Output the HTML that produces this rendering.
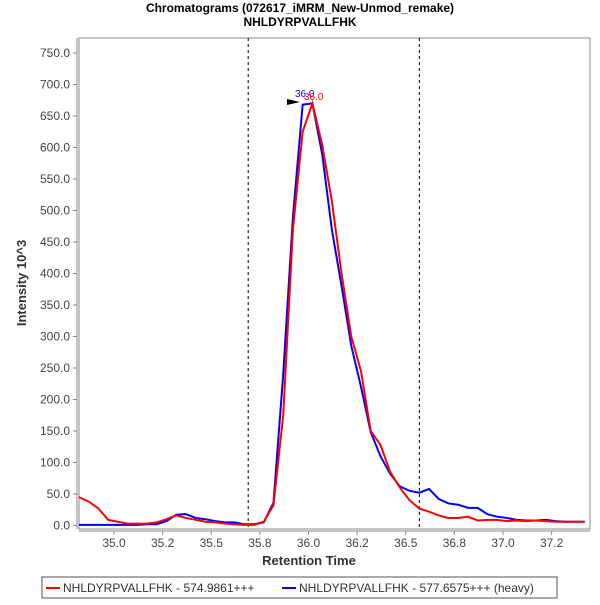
<!DOCTYPE html>
<html><head><meta charset="utf-8"><style>
body{margin:0;background:#fff;font-family:"Liberation Sans",sans-serif}
</style></head><body>
<svg width="600" height="600" xmlns="http://www.w3.org/2000/svg" font-family="Liberation Sans, sans-serif">
<rect width="600" height="600" fill="#fff"/>
<text x="300" y="12" text-anchor="middle" font-size="12" font-weight="bold">Chromatograms (072617_iMRM_New-Unmod_remake)</text>
<text x="300" y="26" text-anchor="middle" font-size="12" font-weight="bold">NHLDYRPVALLFHK</text>
<rect x="79" y="38" width="511" height="491" fill="#fff" stroke="#888"/>
<g id="axes"></g>
<g id="series"></g>
<text x="309" y="565" text-anchor="middle" font-size="13" font-weight="bold" fill="#333">Retention Time</text>
<text transform="translate(26,283) rotate(-90)" text-anchor="middle" font-size="13" font-weight="bold" fill="#333">Intensity 10^3</text>
<g>
<rect x="42" y="577" width="515" height="21" fill="#fff" stroke="#555"/>
<g><line x1="46" y1="588" x2="60" y2="588" stroke="#f00" stroke-width="2"/><text x="63" y="592" font-size="12" fill="#333">NHLDYRPVALLFHK - 574.9861+++</text></g>
<g><line x1="282" y1="588" x2="296" y2="588" stroke="#00f" stroke-width="2"/><text x="299" y="592" font-size="12" fill="#333">NHLDYRPVALLFHK - 577.6575+++ (heavy)</text></g>
</g>
</svg>
<script>
const xTicks=[35.0,35.25,35.5,35.75,36.0,36.25,36.5,36.75,37.0,37.25];
const xTickLabels=["35.0","35.2","35.5","35.8","36.0","36.2","36.5","36.8","37.0","37.2"];
const yTicks=[0,50,100,150,200,250,300,350,400,450,500,550,600,650,700,750];
const times=[34.82,34.87,34.92,34.97,35.02,35.07,35.12,35.17,35.22,35.27,35.32,35.37,35.42,35.47,35.52,35.57,35.62,35.67,35.72,35.77,35.82,35.87,35.92,35.97,36.02,36.07,36.12,36.17,36.22,36.27,36.32,36.37,36.42,36.47,36.52,36.57,36.62,36.67,36.72,36.77,36.82,36.87,36.92,36.97,37.02,37.07,37.12,37.17,37.22,37.27,37.32,37.37,37.42];
const lightValues=[45,38,27,9,6,3,3,3,5,10,16,12,9,6,5,3,2,1,1,6,32,175,470,625,670,605,515,400,300,245,150,128,85,60,40,27,22,16,12,12,14,8,9,9,7,8,7,8,7,6,6,6,6];
const heavyValues=[1,1,1,1,1,1,1,2,2,7,17,18,12,10,7,5,5,2,2,5,36,240,490,668,670,590,470,380,285,220,148,110,82,62,55,52,58,42,35,33,28,28,18,14,12,9,8,8,9,7,6,6,6];
const vLines=[35.69,36.57];
const xS=t=>114+(t-35.0)*194.5;
const yS=v=>525.5-v*0.63;
const NS="http://www.w3.org/2000/svg";
const ax=document.getElementById('axes');
function mk(tag,attrs,parent){const e=document.createElementNS(NS,tag);for(const k in attrs)e.setAttribute(k,attrs[k]);parent.appendChild(e);return e;}
mk('line',{x1:77,y1:38,x2:77,y2:529,stroke:'#888'},ax);
mk('line',{x1:79,y1:531,x2:590,y2:531,stroke:'#888'},ax);
yTicks.forEach(v=>{const y=yS(v);
mk('line',{x1:73,y1:y,x2:77,y2:y,stroke:'#888'},ax);
const t=mk('text',{x:70,y:y+4,'text-anchor':'end','font-size':12,fill:'#444'},ax);t.textContent=v.toFixed(1);

});
xTicks.forEach((v,i)=>{const x=xS(v);
mk('line',{x1:x,y1:531,x2:x,y2:535,stroke:'#888'},ax);
const t=mk('text',{x:x,y:547,'text-anchor':'middle','font-size':12,fill:'#444'},ax);t.textContent=xTickLabels[i];

});
const sg=document.getElementById('series');
vLines.forEach(v=>{const l=mk('line',{x1:xS(v),y1:38,x2:xS(v),y2:529,stroke:'#000','stroke-dasharray':'3,3'},sg);

});
function series(vals,color,name){const p=mk('polyline',{points:times.map((t,i)=>xS(t)+','+yS(vals[i])).join(' '),fill:'none',stroke:color,'stroke-width':2},sg);

}
series(heavyValues,'#00f','heavy-series-line');
series(lightValues,'#f00','light-series-line');
const a=mk('polygon',{points:'287,99 300,102 287,105',fill:'#000'},sg);


const t1=mk('text',{x:295,y:97,'font-size':10,fill:'#00f'},sg);t1.textContent='36.0';


const t2=mk('text',{x:304,y:100,'font-size':10,fill:'#f00'},sg);t2.textContent='36.0';


</script>
</body></html>
